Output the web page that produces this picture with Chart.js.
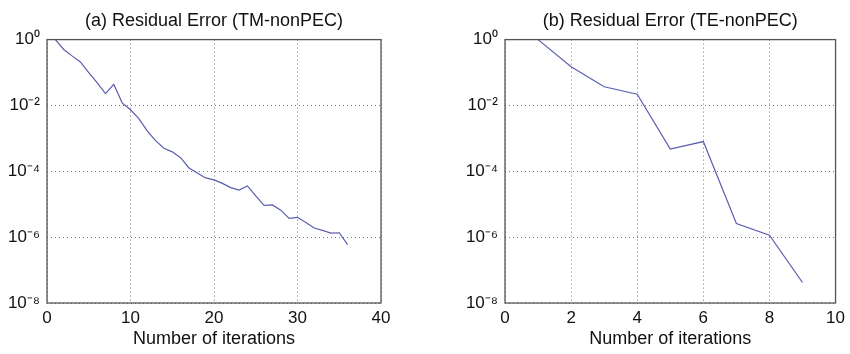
<!DOCTYPE html>
<html>
<head>
<meta charset="utf-8">
<script src="https://cdn.jsdelivr.net/npm/chart.js@4/dist/chart.umd.min.js"></script>
<style>
  body{margin:0;background:#fff;}
  #wrap{position:relative;width:850px;height:354px;}
  canvas{position:absolute;top:0;}
</style>
</head>
<body>
<div id="wrap">
  <canvas id="chartA" width="425" height="354" style="left:0"></canvas>
  <canvas id="chartB" width="425" height="354" style="left:425px"></canvas>
</div>
<script>
// residual error per iteration
const iterA = [1,2,3,4,5,6,7,8,9,10,11,12,13,14,15,16,17,18,19,20,21,22,23,24,25,26,27,28,29,30,31,32,33,34,35,36];
const residualA = [1,0.5,0.32,0.21,0.10,0.049,0.023,0.044,0.012,0.0074,0.0040,0.0017,8.5e-4,5e-4,3.9e-4,2.6e-4,1.26e-4,8.9e-5,6.3e-5,5.5e-5,4.3e-5,3.2e-5,2.7e-5,3.6e-5,1.78e-5,9.2e-6,9.5e-6,6.6e-6,3.7e-6,4e-6,2.8e-6,1.9e-6,1.6e-6,1.33e-6,1.36e-6,5.9e-7];
const iterB = [1,2,3,4,5,6,7,8,9];
const residualB = [1,0.15,0.037,0.022,4.7e-4,8e-4,2.6e-6,1.15e-6,4.2e-8];

const yTicks = [1e-8,1e-6,1e-4,1e-2,1];
const yTickText = {'1':'10\u2070','0.01':'10\u207B\u00B2','0.0001':'10\u207B\u2074','0.000001':'10\u207B\u2076','1e-8':'10\u207B\u2078'};

const FONT = "'Liberation Sans', Arial, sans-serif";
const lineColor = '#5a5eae';
const gridColor = '#777';

const frame = {
  id:'frame',
  afterDraw(chart){
    const a=chart.chartArea, ctx=chart.ctx;
    ctx.save();
    ctx.strokeStyle='#555'; ctx.lineWidth=1.3;
    ctx.strokeRect(a.left, a.top, a.right-a.left, a.bottom-a.top);
    ctx.restore();
  }
};

function makeChart(id, title, xs, ys, xMax, xStep, yWidth, padRight){
  const pts = xs.map((x,i)=>({x:x, y:ys[i]}));
  return new Chart(document.getElementById(id), {
    type:'line',
    data:{datasets:[{data:pts, borderColor:lineColor, borderWidth:1.2, pointRadius:0, tension:0, fill:false}]},
    options:{
      responsive:false, animation:false,
      layout:{padding:{left:0,right:padRight,top:0,bottom:0}},
      plugins:{
        legend:{display:false}, tooltip:{enabled:false},
        title:{display:true, text:title, fullSize:false, color:'#111',
          font:{family:FONT, size:18, weight:'normal'}, padding:{top:10,bottom:8}}
      },
      scales:{
        x:{type:'linear', min:0, max:xMax,
          afterFit(s){ s.height = 51; },
          ticks:{stepSize:xStep, color:'#111', padding:5, maxRotation:0, font:{family:FONT, size:17}},
          grid:{color:gridColor, lineWidth:1, drawTicks:false},
          border:{display:false, dash:[1,3]},
          title:{display:true, text:'Number of iterations', color:'#111',
            font:{family:FONT, size:18}, padding:{top:0,bottom:4}}
        },
        y:{type:'logarithmic', min:1e-8, max:1,
          afterFit(s){ s.width = yWidth; },
          afterBuildTicks(s){ s.ticks = yTicks.map(v=>({value:v})); },
          ticks:{color:'#111', padding:7, font:{family:FONT, size:17},
            callback:(v)=>yTickText[String(v)] || ''},
          grid:{color:gridColor, lineWidth:1, drawTicks:false},
          border:{display:false, dash:[1,3]}
        }
      }
    },
    plugins:[frame]
  });
}

makeChart('chartA', '(a) Residual Error (TM-nonPEC)', iterA, residualA, 40, 10, 47, 44);
makeChart('chartB', '(b) Residual Error (TE-nonPEC)', iterB, residualB, 10, 2, 80, 11);
</script>
</body>
</html>
